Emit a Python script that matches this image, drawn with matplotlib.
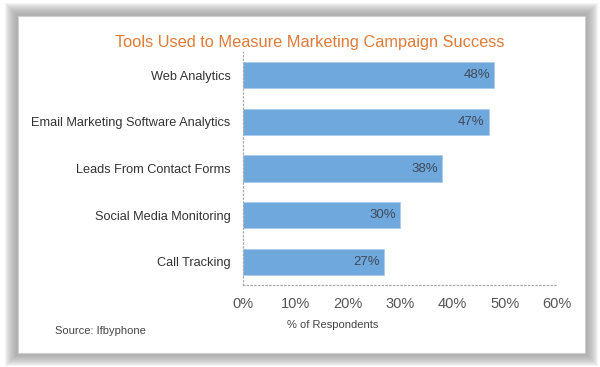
import matplotlib.pyplot as plt
from matplotlib.patches import Rectangle

categories = ["Web Analytics", "Email Marketing Software Analytics",
              "Leads From Contact Forms", "Social Media Monitoring", "Call Tracking"]
values = [48, 47, 38, 30, 27]
xticks = [0, 10, 20, 30, 40, 50, 60]

FONT = ["Liberation Sans Narrow", "Liberation Sans", "DejaVu Sans"]
W, H = 600, 367


def fx(px):
    return px / W


def fy(py):
    return 1 - py / H


fig = plt.figure(figsize=(6, 3.67), dpi=100)
fig.patch.set_facecolor("white")

# soft gray frame around the card
for i in range(12):
    pad = 13 - i * 1.0
    fig.patches.append(Rectangle((fx(18 - pad), fy(353 + pad)),
                                 fx(567 + 2 * pad), (337 + 2 * pad) / H,
                                 transform=fig.transFigure, facecolor="#909090",
                                 edgecolor="none", alpha=0.09, zorder=0))
fig.patches.append(Rectangle((fx(18), fy(353)), fx(567), 337 / H,
                             transform=fig.transFigure, facecolor="white",
                             edgecolor="#d0d0d0", linewidth=0.8, zorder=1))

ax = fig.add_axes([fx(243), fy(285), fx(557 - 243), (285 - 52) / H])
ax.set_facecolor("none")
ax.set_zorder(2)

y = list(range(len(categories)))
ax.barh(y, values, height=0.56, color="#6fa8dc", edgecolor="#a9cbea", linewidth=0.6)
for yi, v in zip(y, values):
    ax.text(v - 0.8, yi, f"{v}%", ha="right", va="center", fontsize=9.5,
            color="#3f4a5a", family=FONT)

ax.set_ylim(len(categories) - 0.5, -0.5)
ax.set_xlim(0, 60)
ax.set_yticks(y)
ax.set_yticklabels(categories, fontsize=9.2, color="#333333", family=FONT)
ax.set_xticks(xticks)
ax.set_xticklabels([f"{t}%" for t in xticks], fontsize=10.5, color="#555555", family=FONT)
ax.tick_params(length=0)
ax.tick_params(axis="x", pad=9)
ax.tick_params(axis="y", pad=9)
for side in ["top", "right"]:
    ax.spines[side].set_visible(False)
for side in ["left", "bottom"]:
    ax.spines[side].set_linestyle((0, (1, 2)))
    ax.spines[side].set_color("#aaaaaa")
    ax.spines[side].set_linewidth(0.9)

fig.text(fx(310), fy(42), "Tools Used to Measure Marketing Campaign Success",
         ha="center", va="center", fontsize=11.8, color="#e07b39", family=FONT)
fig.text(fx(333), fy(325), "% of Respondents", ha="center", va="center",
         fontsize=8, color="#444444", family=FONT)
fig.text(fx(55), fy(331), "Source: Ifbyphone", ha="left", va="center",
         fontsize=8, color="#444444", family=FONT)

fig.savefig("out.png", dpi=100)
